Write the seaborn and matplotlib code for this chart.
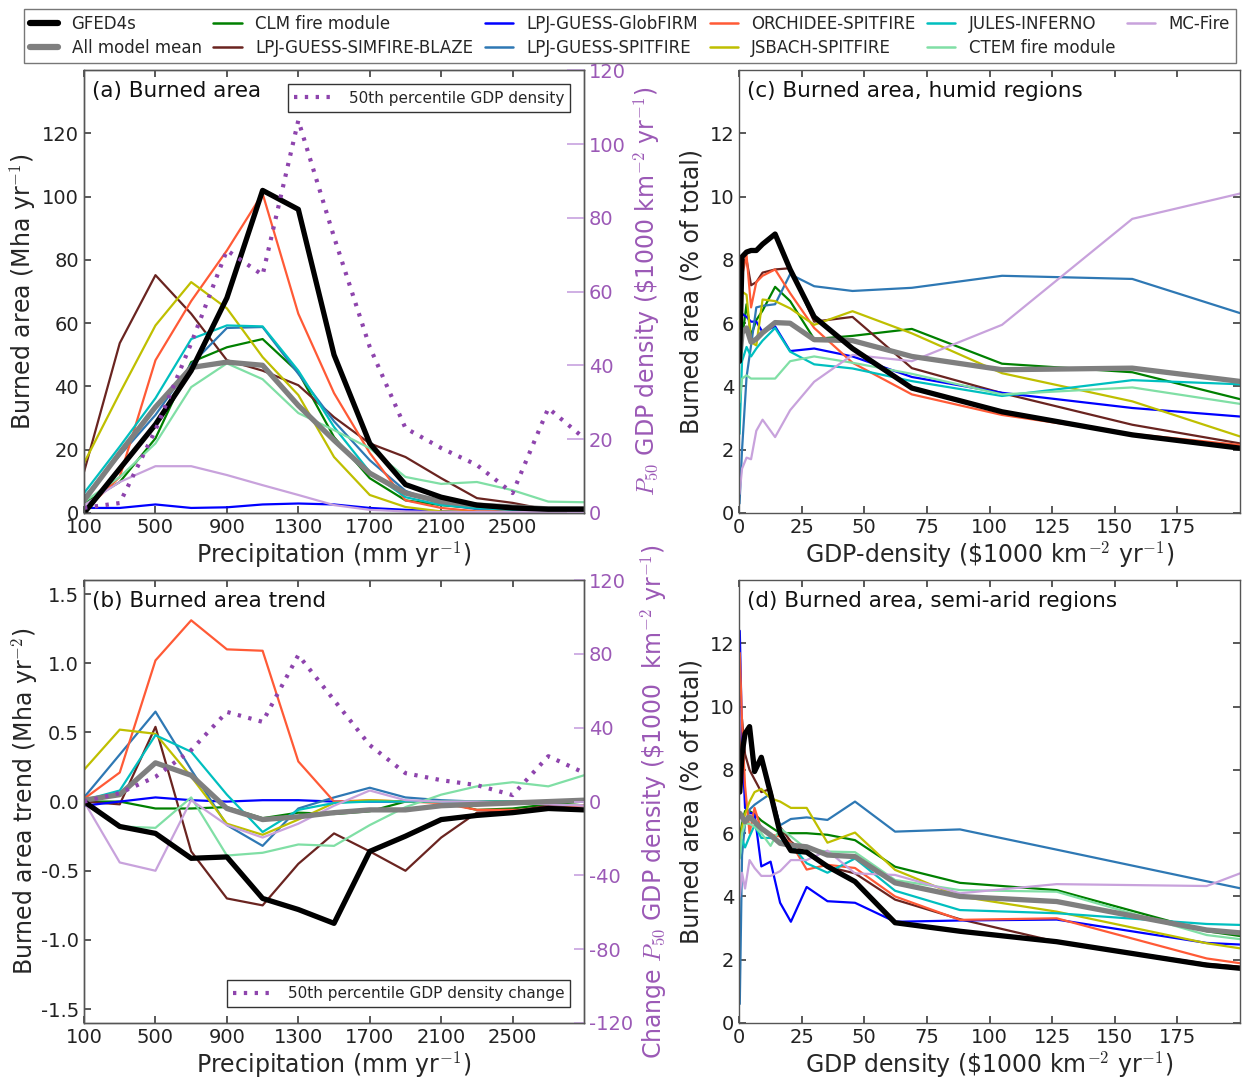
import numpy as np
import pandas as pd
import seaborn as sns
import matplotlib
matplotlib.use("Agg")
import matplotlib.pyplot as plt
from matplotlib.lines import Line2D

# ---------------------------------------------------------------------------
# Data
# ---------------------------------------------------------------------------
models = ["GFED4s", "All model mean", "CLM fire module", "LPJ-GUESS-SIMFIRE-BLAZE",
          "LPJ-GUESS-GlobFIRM", "LPJ-GUESS-SPITFIRE", "ORCHIDEE-SPITFIRE",
          "JSBACH-SPITFIRE", "JULES-INFERNO", "CTEM fire module", "MC-Fire"]

# precipitation bin centres (mm/yr)
precip = [100, 300, 500, 700, 900, 1100, 1300, 1500, 1700, 1900, 2100, 2300, 2500, 2700, 2900]

# (a) burned area per precipitation bin (Mha/yr)
ba_gfed = [0, 14, 28, 45, 68, 102, 96, 50, 22, 9, 5, 2.5, 1.6, 1.2, 1.2]
ba_mean = [4, 19, 33.5, 46, 47.7, 46.7, 34, 23, 12.6, 6.3, 3.6, 2.5, 1.9, 1.3, 1.3]
ba_clm = [3, 9.8, 23.6, 47.7, 52.4, 55, 44.5, 24, 11, 4, 2.5, 1.5, 1, 1, 1]
ba_blaze = [13, 53.7, 75.2, 63, 48.3, 45, 40.4, 30.3, 22, 17.7, 11, 4.7, 3.2, 1, 0.5]
ba_globfirm = [1.6, 1.6, 2.7, 1.6, 1.8, 2.7, 3, 2.7, 1.6, 1, 0.5, 0.3, 0.3, 0.3, 0.3]
ba_lpjspit = [5, 18.2, 31, 47, 58.5, 58.8, 44, 29, 16.7, 7, 2.8, 1.2, 1, 1, 1]
ba_orchidee = [0.6, 11.4, 48.3, 67, 83, 101, 63, 37.9, 19, 4, 1.6, 0.5, 0.5, 0.5, 0.5]
ba_jsbach = [15.8, 37.9, 59.3, 73, 64.7, 49.3, 37.3, 17.7, 5.7, 1.9, 0.5, 0.3, 0.3, 0.3, 0.3]
ba_jules = [6.3, 21, 36.3, 55, 59.3, 59, 45, 27.2, 13, 5, 2.5, 1.6, 1, 1, 1]
ba_ctem = [3.5, 11.4, 22, 39.8, 47.3, 42.3, 31.6, 26.2, 20.5, 11.4, 9.2, 9.8, 7.2, 3.6, 3.4]
ba_mcfire = [2.5, 9.8, 14.8, 14.8, 12, 8.8, 5.7, 2.5, 1, 0.5, 0.3, 0.3, 0.3, 0.3, 0.3]
gdp_p50 = [1.4, 2.7, 22.5, 46, 71.2, 64.5, 106.4, 74.8, 45, 23, 17.6, 13, 5.4, 28.4, 20.3]

# (b) burned area trend per precipitation bin (Mha/yr^2)
tr_gfed = [0, -0.18, -0.23, -0.41, -0.40, -0.70, -0.78, -0.88, -0.36, -0.25, -0.13, -0.10, -0.08, -0.05, -0.06]
tr_mean = [0.01, 0.05, 0.28, 0.19, -0.05, -0.13, -0.11, -0.08, -0.06, -0.06, -0.03, -0.02, -0.01, 0.0, 0.01]
tr_clm = [0, 0, -0.05, -0.05, -0.04, -0.12, -0.08, -0.09, -0.07, 0, 0, -0.06, -0.05, -0.02, 0]
tr_blaze = [0, -0.02, 0.54, -0.36, -0.70, -0.75, -0.45, -0.23, -0.36, -0.50, -0.26, -0.08, -0.07, -0.03, -0.03]
tr_globfirm = [-0.03, 0.0, 0.03, 0.01, 0.0, 0.01, 0.01, 0.0, 0.0, 0.0, 0.0, 0.0, 0.0, 0.0, 0.0]
tr_lpjspit = [0.03, 0.34, 0.65, 0.23, -0.17, -0.32, -0.05, 0.03, 0.10, 0.03, 0.01, 0, 0, 0, 0]
tr_orchidee = [0.02, 0.21, 1.02, 1.31, 1.10, 1.09, 0.29, 0.0, 0.01, 0, -0.01, -0.06, -0.06, -0.06, -0.03]
tr_jsbach = [0.23, 0.52, 0.49, 0.18, -0.16, -0.24, -0.13, -0.01, 0.01, 0, 0, 0, 0, 0, 0]
tr_jules = [0.01, 0.08, 0.48, 0.36, 0.05, -0.22, -0.06, -0.01, 0, 0, 0, 0, 0, 0, 0]
tr_ctem = [0, -0.18, -0.19, 0.03, -0.39, -0.37, -0.31, -0.32, -0.17, -0.04, 0.05, 0.11, 0.14, 0.11, 0.19]
tr_mcfire = [0, -0.44, -0.50, 0.01, -0.17, -0.26, -0.16, -0.03, 0.08, 0.01, 0, 0, -0.01, -0.02, -0.03]
gdp_p50_change = [0, 4.6, 13.4, 27.9, 48.6, 43.2, 79.4, 55, 30.6, 15.4, 11.6, 8.9, 3.5, 24.6, 15.6]

# (c) humid regions: GDP-density bins ($1000 km^-2 yr^-1), burned area (% of total)
gdp_humid = [0.2, 1.2, 3.0, 4.8, 6.9, 9.4, 14.4, 20.4, 30.0, 45.3, 69.0, 105.0, 157.0, 200.0]
hu_gfed = [4.8, 8.1, 8.25, 8.3, 8.3, 8.5, 8.82, 7.7, 6.2, 5.2, 3.95, 3.2, 2.47, 2.05]
hu_mean = [4.8, 5.7, 5.85, 5.4, 5.5, 5.7, 6.02, 6.0, 5.48, 5.45, 4.95, 4.53, 4.58, 4.16]
hu_clm = [4.8, 5.5, 6.6, 5.6, 6.1, 6.4, 7.15, 6.7, 5.5, 5.6, 5.82, 4.72, 4.45, 3.6]
hu_blaze = [6.95, 7.9, 8.0, 7.2, 7.3, 7.6, 7.7, 7.74, 6.05, 6.2, 4.58, 3.79, 2.79, 2.2]
hu_globfirm = [6.9, 6.3, 6.2, 6.05, 6.05, 5.72, 5.9, 5.12, 5.2, 4.95, 4.3, 3.8, 3.32, 3.05]
hu_lpjspit = [0.3, 2.0, 4.3, 5.3, 6.5, 6.55, 6.6, 7.55, 7.17, 7.02, 7.12, 7.5, 7.4, 6.32]
hu_orchidee = [7.1, 7.5, 8.15, 6.5, 7.3, 7.5, 7.7, 6.95, 5.85, 4.75, 3.75, 3.1, 2.5, 2.15]
hu_jsbach = [6.2, 7.0, 6.9, 5.4, 5.3, 6.75, 6.7, 6.47, 5.95, 6.38, 5.68, 4.42, 3.53, 2.42]
hu_jules = [2.5, 4.8, 5.25, 4.95, 5.2, 5.45, 5.85, 5.1, 4.7, 4.57, 4.17, 3.7, 4.2, 4.07]
hu_ctem = [3.5, 4.25, 4.35, 4.25, 4.25, 4.25, 4.25, 4.8, 4.95, 4.75, 4.4, 3.75, 3.97, 3.45]
hu_mcfire = [0.6, 1.4, 1.75, 1.7, 2.6, 2.95, 2.4, 3.25, 4.15, 5.0, 4.8, 5.95, 9.3, 10.1]

# (d) semi-arid regions
gdp_semiarid = [0.3, 1.2, 2.4, 4.2, 6.2, 8.9, 12.6, 16.4, 20.7, 27.0, 35.3, 46.3, 62.3, 88.2, 126.8, 186.7, 200.0]
sa_gfed = [7.3, 8.5, 9.15, 9.37, 7.95, 8.4, 7.25, 6.0, 5.45, 5.4, 4.95, 4.47, 3.17, 2.9, 2.57, 1.83, 1.73]
sa_mean = [6.63, 6.52, 6.36, 6.52, 6.36, 6.15, 5.94, 5.68, 5.62, 5.57, 5.31, 5.26, 4.43, 4.0, 3.84, 2.94, 2.85]
sa_clm = [5.9, 6.3, 6.7, 6.7, 6.6, 6.4, 6.2, 6.0, 6.0, 6.0, 5.95, 5.78, 4.94, 4.43, 4.2, 2.9, 2.75]
sa_blaze = [7.5, 9.6, 8.5, 8.0, 7.7, 7.3, 7.4, 6.2, 5.73, 5.36, 4.94, 4.73, 3.9, 3.28, 2.57, 1.87, 1.78]
sa_globfirm = [12.4, 9.0, 6.8, 6.65, 6.6, 4.95, 5.1, 3.8, 3.2, 4.3, 3.85, 3.8, 3.2, 3.24, 3.27, 2.53, 2.48]
sa_lpjspit = [0.6, 5.3, 6.3, 6.75, 6.9, 7.05, 7.25, 6.25, 6.45, 6.5, 6.42, 7.0, 6.05, 6.12, 5.48, 4.48, 4.26]
sa_orchidee = [11.7, 9.5, 7.5, 6.0, 6.8, 6.1, 5.95, 5.9, 5.7, 4.85, 5.0, 4.9, 4.0, 3.26, 3.31, 2.04, 1.89]
sa_jsbach = [5.5, 6.2, 6.6, 7.0, 7.3, 7.4, 7.1, 7.0, 6.8, 6.8, 5.7, 6.02, 4.84, 4.0, 3.52, 2.52, 2.36]
sa_jules = [5.3, 5.8, 5.55, 5.9, 6.25, 5.85, 5.85, 5.75, 5.65, 5.05, 4.75, 5.2, 4.18, 3.57, 3.47, 3.13, 3.1]
sa_ctem = [5.2, 6.0, 6.3, 6.3, 6.2, 6.0, 5.6, 6.15, 5.9, 5.5, 5.42, 5.4, 4.52, 4.2, 4.15, 2.78, 2.65]
sa_mcfire = [4.0, 4.75, 4.25, 5.15, 4.9, 4.65, 4.65, 4.8, 5.15, 5.15, 5.45, 4.73, 4.68, 4.1, 4.39, 4.33, 4.73]

# ---------------------------------------------------------------------------
# Styling
# ---------------------------------------------------------------------------
colors = {
    "GFED4s": "#000000",
    "All model mean": "#7f7f7f",
    "CLM fire module": "#008000",
    "LPJ-GUESS-SIMFIRE-BLAZE": "#6a2420",
    "LPJ-GUESS-GlobFIRM": "#0000ff",
    "LPJ-GUESS-SPITFIRE": "#2e78b4",
    "ORCHIDEE-SPITFIRE": "#ff5a36",
    "JSBACH-SPITFIRE": "#bfbf00",
    "JULES-INFERNO": "#00bfbf",
    "CTEM fire module": "#80dfa5",
    "MC-Fire": "#c8a2dc",
}
widths = {m: 1.6 for m in models}
widths["GFED4s"] = 3.8
widths["All model mean"] = 3.8
gdp_color = "#8e44ad"
gdp_text = "#9b59b6"
gdp_tick = "#c9a6e0"
gdp_dash = (0, (0.8, 1.8))

sns.set_theme(style="white")
plt.rcParams.update({
    "font.family": ["DejaVu Sans"],
    "mathtext.fontset": "cm",
    "axes.unicode_minus": False,
    "axes.edgecolor": "#555555",
    "axes.linewidth": 1.0,
    "xtick.direction": "in",
    "ytick.direction": "in",
    "xtick.top": True,
    "ytick.right": True,
    "xtick.bottom": True,
    "ytick.left": True,
    "xtick.major.size": 5,
    "ytick.major.size": 5,
    "xtick.color": "#444444",
    "ytick.color": "#444444",
    "xtick.labelcolor": "#222222",
    "ytick.labelcolor": "#222222",
    "xtick.labelsize": 14,
    "ytick.labelsize": 14,
    "axes.labelsize": 17,
})

fig = plt.figure(figsize=(12.45, 10.8), dpi=100)
ax_a = fig.add_axes([0.0675, 0.525, 0.4016, 0.410])
ax_b = fig.add_axes([0.0675, 0.0528, 0.4016, 0.410])
ax_c = fig.add_axes([0.5936, 0.525, 0.4024, 0.410])
ax_d = fig.add_axes([0.5936, 0.0528, 0.4024, 0.410])

series_a = [ba_gfed, ba_mean, ba_clm, ba_blaze, ba_globfirm, ba_lpjspit, ba_orchidee,
            ba_jsbach, ba_jules, ba_ctem, ba_mcfire]
series_b = [tr_gfed, tr_mean, tr_clm, tr_blaze, tr_globfirm, tr_lpjspit, tr_orchidee,
            tr_jsbach, tr_jules, tr_ctem, tr_mcfire]
series_c = [hu_gfed, hu_mean, hu_clm, hu_blaze, hu_globfirm, hu_lpjspit, hu_orchidee,
            hu_jsbach, hu_jules, hu_ctem, hu_mcfire]
series_d = [sa_gfed, sa_mean, sa_clm, sa_blaze, sa_globfirm, sa_lpjspit, sa_orchidee,
            sa_jsbach, sa_jules, sa_ctem, sa_mcfire]


def draw_models(ax, x, series):
    # models first, then the mean, then observations on top
    order = list(range(2, len(models))) + [1, 0]
    for i in order:
        df = pd.DataFrame({"x": x, "y": series[i]})
        sns.lineplot(data=df, x="x", y="y", ax=ax, color=colors[models[i]],
                     linewidth=widths[models[i]], legend=False, sort=False)
    ax.set_xlabel("")
    ax.set_ylabel("")


draw_models(ax_a, precip, series_a)
draw_models(ax_b, precip, series_b)
draw_models(ax_c, gdp_humid, series_c)
draw_models(ax_d, gdp_semiarid, series_d)

for ax in (ax_a, ax_b):
    ax.set_xlim(100, 2900)
    ax.set_xticks([100, 500, 900, 1300, 1700, 2100, 2500])
    ax.set_xlabel("Precipitation (mm yr$^{-1}$)", labelpad=2)
    ax.tick_params(right=False)

ax_a.set_ylim(0, 140)
ax_a.set_yticks(np.arange(0, 121, 20))
ax_a.set_ylabel("Burned area (Mha yr$^{-1}$)", labelpad=3)
ax_b.set_ylim(-1.6, 1.6)
ax_b.set_yticks([-1.5, -1.0, -0.5, 0.0, 0.5, 1.0, 1.5])
ax_b.set_ylabel("Burned area trend (Mha yr$^{-2}$)", labelpad=1)

for ax in (ax_c, ax_d):
    ax.set_xlim(0, 200)
    ax.set_xticks(np.arange(0, 176, 25))
    ax.set_ylim(0, 14)
    ax.set_yticks(np.arange(0, 13, 2))
    ax.set_ylabel("Burned area (% of total)")
ax_c.set_xlabel("GDP-density (\\$1000 km$^{-2}$ yr$^{-1}$)", labelpad=2)
ax_d.set_xlabel("GDP density (\\$1000 km$^{-2}$ yr$^{-1}$)", labelpad=2)

# GDP density on secondary axes
tw_a = ax_a.twinx()
sns.lineplot(x=precip, y=gdp_p50, ax=tw_a, color=gdp_color, linewidth=3,
             linestyle=gdp_dash, legend=False, sort=False)
tw_a.set_ylim(0, 120)
tw_a.set_yticks(np.arange(0, 121, 20))
tw_a.set_ylabel("$P_{50}$ GDP density (\\$1000 km$^{-2}$ yr$^{-1}$)", color=gdp_text)

tw_b = ax_b.twinx()
sns.lineplot(x=precip, y=gdp_p50_change, ax=tw_b, color=gdp_color, linewidth=3,
             linestyle=gdp_dash, legend=False, sort=False)
tw_b.set_ylim(-120, 120)
tw_b.set_yticks(np.arange(-120, 121, 40))
tw_b.set_ylabel("Change $P_{50}$ GDP density (\\$1000  km$^{-2}$ yr$^{-1}$)", color=gdp_text)

for tw, tlen in ((tw_a, 12), (tw_b, 7)):
    tw.tick_params(axis="y", left=False, right=True, direction="in", length=tlen,
                   color=gdp_tick, labelcolor=gdp_text, labelsize=14)
    tw.tick_params(axis="x", top=False, bottom=False)
    tw.set_xlabel("")

gdp_handle = Line2D([], [], color=gdp_color, linewidth=3, linestyle=gdp_dash)
leg_a = tw_a.legend([gdp_handle], ["50th percentile GDP density"], loc="upper right",
                    fontsize=11, frameon=True, fancybox=False, edgecolor="black",
                    handlelength=2.6, handletextpad=1.0, borderpad=0.4,
                    bbox_to_anchor=(0.988, 0.985))
leg_b = tw_b.legend([gdp_handle], ["50th percentile GDP density change"], loc="lower right",
                    fontsize=11, frameon=True, fancybox=False, edgecolor="black",
                    handlelength=2.6, handletextpad=1.0, borderpad=0.4,
                    bbox_to_anchor=(0.988, 0.018))
for lg in (leg_a, leg_b):
    lg.get_frame().set_linewidth(1.0)

# panel titles
for ax, title in ((ax_a, "(a) Burned area"), (ax_b, "(b) Burned area trend"),
                  (ax_c, "(c) Burned area, humid regions"),
                  (ax_d, "(d) Burned area, semi-arid regions")):
    ax.text(0.015, 0.975, title, transform=ax.transAxes, ha="left", va="top",
            fontsize=15.5, color="#111111")

# shared legend across the top
handles = [Line2D([], [], color=colors[m], linewidth=(4.5 if widths[m] > 3 else 1.8))
           for m in models]
fig.legend(handles, models, ncol=6, loc="upper center", bbox_to_anchor=(0.506, 0.999),
           fontsize=12, frameon=True, fancybox=False, edgecolor="#555555",
           handlelength=1.7, columnspacing=0.7, handletextpad=0.8, borderpad=0.35,
           labelspacing=0.35)

fig.savefig("out.png", dpi=100)
